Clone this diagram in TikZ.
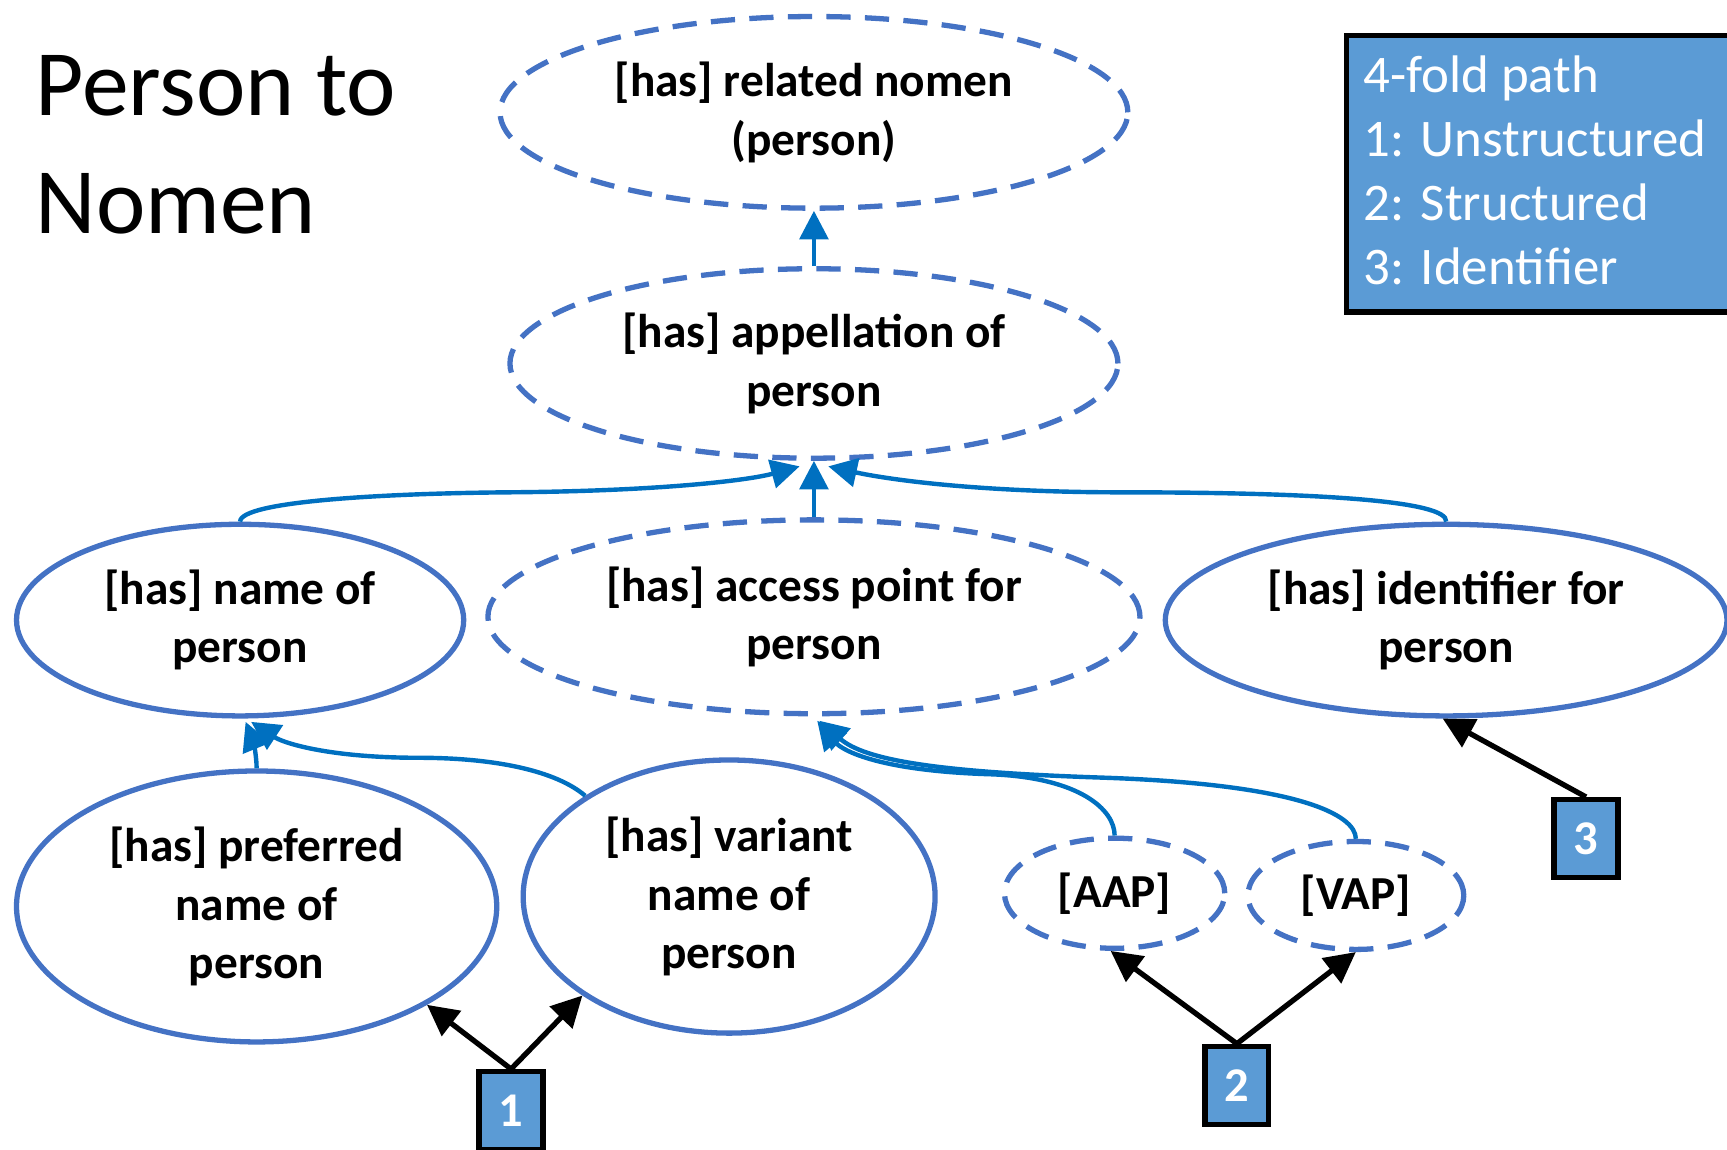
\documentclass[tikz,border=0pt]{standalone}
\usepackage{fontspec}
\setmainfont{Carlito}
\usetikzlibrary{arrows.meta,shapes.geometric,calc}
\definecolor{ellblue}{HTML}{4472C4}
\definecolor{linkblue}{HTML}{0070C0}
\definecolor{boxblue}{HTML}{5B9BD5}
\begin{document}
\begin{tikzpicture}[x=0.5pt,y=-0.5pt,
  ell/.style={ellipse, draw=ellblue, line width=2.4pt, inner sep=0pt, align=center,
    font=\bfseries\fontsize{21.5}{26.5}\selectfont},
  dashell/.style={ell, dash pattern=on 11pt off 6.5pt},
  link/.style={draw=linkblue, line width=2pt, -{Triangle[length=13pt,width=13pt]}},
  ptr/.style={draw=black, line width=2.4pt, -{Triangle[length=14pt,width=14pt]}},
  numbox/.style={rectangle, draw=black, line width=2.4pt, fill=boxblue, text=white,
    minimum width=29pt, minimum height=35.5pt, inner sep=0pt,
    font=\bfseries\fontsize{22}{26}\selectfont}]
\useasboundingbox (0,0) rectangle (1568,1044);

% title
\node[anchor=base west, align=left, inner sep=0pt,
  font=\fontsize{42.5}{53.5}\selectfont] (title) at (32,212) {Person to\\Nomen};

% legend
\node[draw=black, line width=2.4pt, fill=boxblue, anchor=north west,
  minimum width=190pt, minimum height=125.5pt, inner sep=0pt] (legend) at (1220,30) {};
\node[anchor=base west, align=left, inner sep=0pt, text=white,
  font=\fontsize{24}{29}\selectfont] (legendtext) at (1238,258)
  {4-fold path\\1: Unstructured\\2: Structured\\3: Identifier};

% ellipses
\node[dashell, minimum width=285pt, minimum height=87pt] (E1) at (739,102) {[has] related nomen\\(person)};
\node[dashell, minimum width=276pt, minimum height=86pt] (E2) at (739,330) {[has] appellation of\\person};
\node[ell, minimum width=203pt, minimum height=87pt] (E3) at (218,563) {[has] name of\\person};
\node[dashell, minimum width=296pt, minimum height=88pt] (E4) at (739,560) {[has] access point for\\person};
\node[ell, minimum width=255pt, minimum height=87pt] (E5) at (1313,563) {[has] identifier for\\person};
\node[ell, minimum width=218pt, minimum height=123pt] (E6) at (233,823) {[has] preferred\\name of\\person};
\node[ell, minimum width=187pt, minimum height=124pt] (E7) at (662,814) {[has] variant\\name of\\person};
\node[dashell, minimum width=100pt, minimum height=50pt] (E8) at (1012,811) {[AAP]};
\node[dashell, minimum width=98pt, minimum height=49pt] (E9) at (1231,813) {[VAP]};

% number boxes
\node[numbox] (B1) at (464,1008.5) {1};
\node[numbox] (B2) at (1123,985.5) {2};
\node[numbox] (B3) at (1440,761.5) {3};

% blue links
\draw[link] (E2.north) -- (E1.south);
\draw[link] (E4.north) -- (E2.south);
\draw[link] (E3.north) .. controls (218,455) and (350,448) .. (460,447)
  .. controls (600,446) and (680,436) .. ($(E2.south)+(-13,5)$);
\draw[link] (E5.north) .. controls (1315,455) and (1200,447) .. (1020,447)
  .. controls (880,447) and (800,434) .. ($(E2.south)+(13,5)$);
\draw[link] (E6.north) .. controls (233,685) and (229,670) .. ($(E3.south)+(5,3)$);
\draw[link] (E7.145) .. controls (505,700) and (450,688) .. (380,688)
  .. controls (300,688) and (258,675) .. ($(E3.south)+(10,3)$);
\draw[link] (E8.north) .. controls (1012,735) and (980,706) .. (900,703)
  .. controls (800,700) and (765,682) .. ($(E4.south)+(3,4)$);
\draw[link] (E9.north) .. controls (1231,740) and (1180,712) .. (1000,706)
  .. controls (850,701) and (785,690) .. ($(E4.south)+(5,4)$);

% black pointers
\draw[ptr] (B1.north) -- (E6.330);
\draw[ptr] (B1.north) -- (E7.214);
\draw[ptr] (B2.north) -- (E8.266);
\draw[ptr] (B2.north) -- (E9.south);
\draw[ptr] (B3.north) -- (E5.268);
\end{tikzpicture}
\end{document}
